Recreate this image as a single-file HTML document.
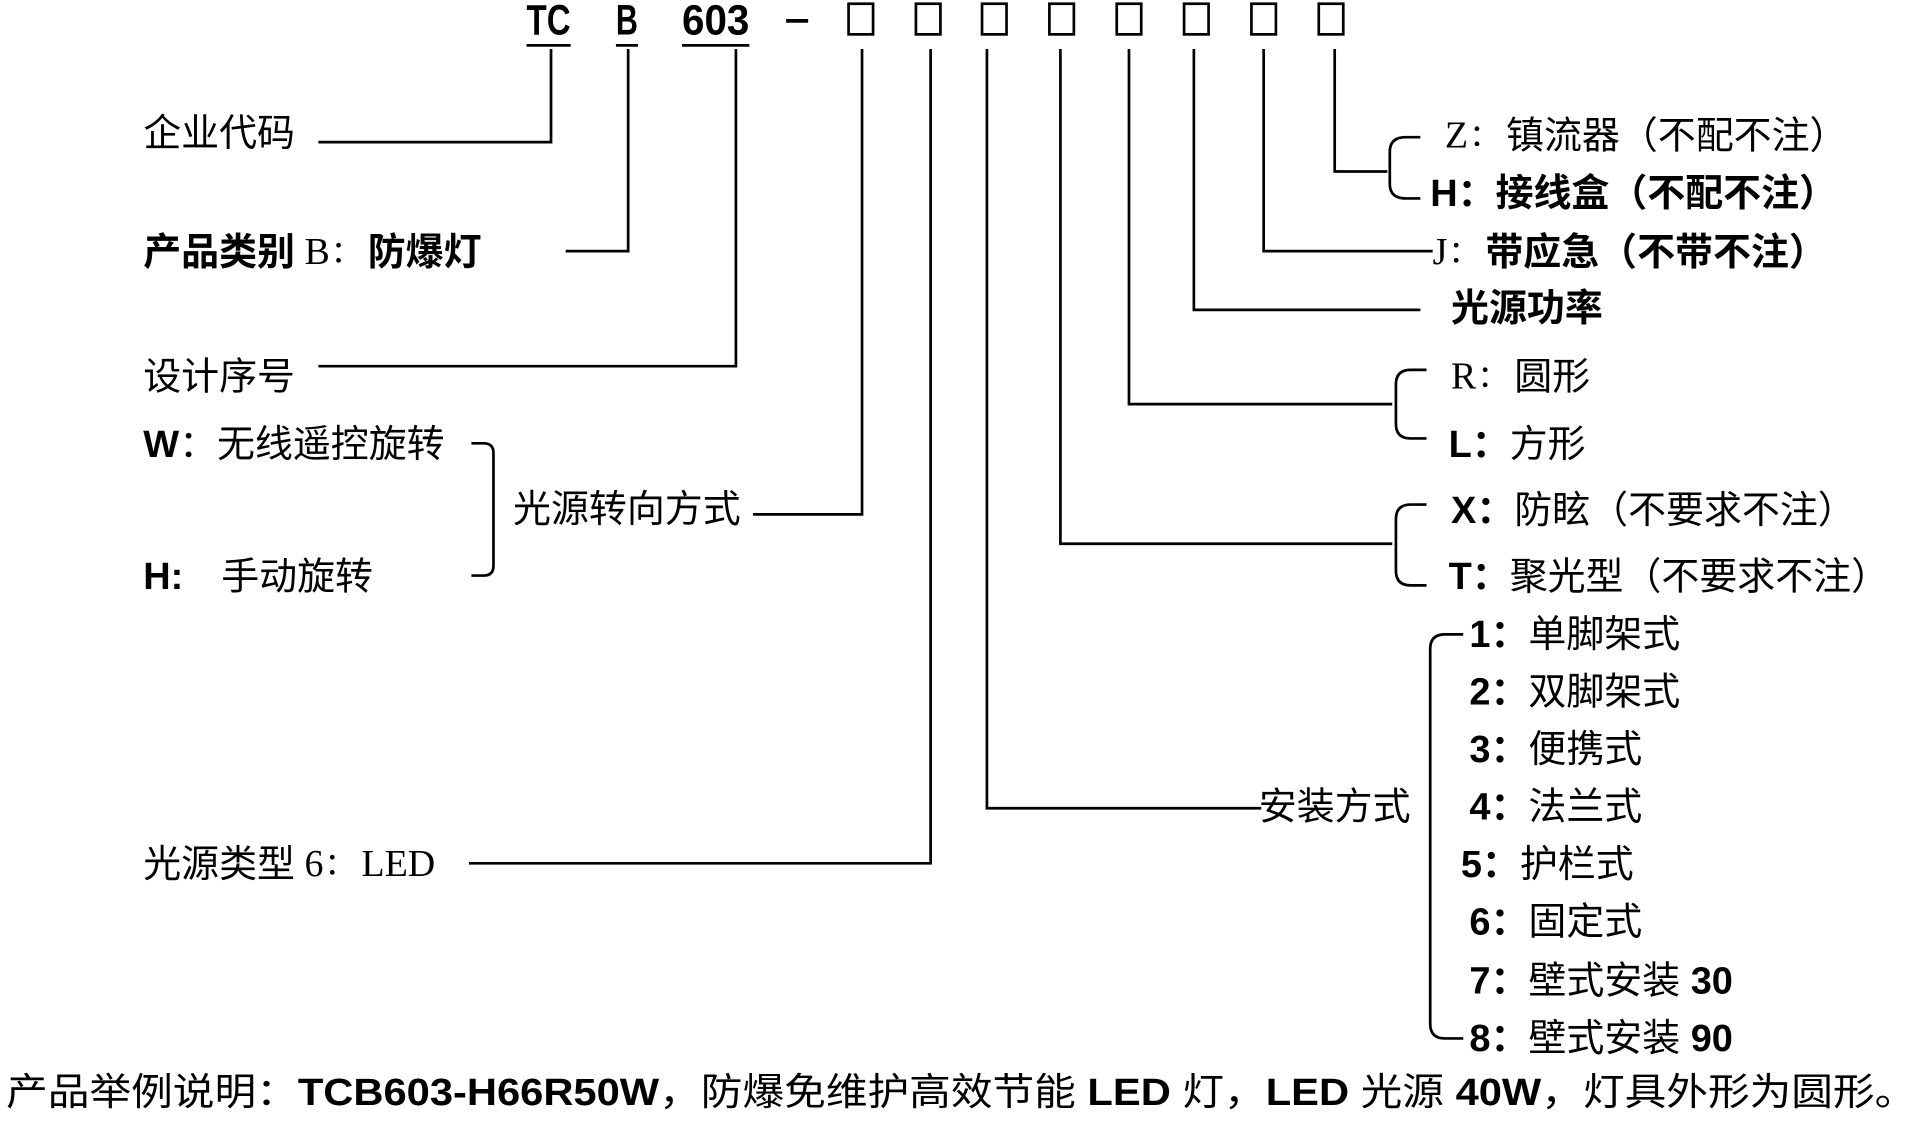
<!DOCTYPE html>
<html><head><meta charset="utf-8"><style>
html,body{margin:0;padding:0;background:#fff;width:1920px;height:1123px;overflow:hidden}
svg text{font-family:"Liberation Sans","Noto Sans CJK SC",sans-serif;font-size:31px;fill:#000;dominant-baseline:middle}
.b{font-weight:bold}
.s{font-family:"Liberation Serif","Noto Serif CJK SC",serif}
svg text.h{font-size:35px;font-weight:bold;dominant-baseline:alphabetic}
</style></head><body>
<svg width="1920" height="1123" viewBox="0 0 1568 917" xmlns="http://www.w3.org/2000/svg">
<g fill="none" stroke="#000" stroke-width="2.2">
<path d="M430 37H466M503 37H521M557 37H612"/>
<path d="M642 17H660" stroke-width="3"/>
<rect x="693" y="3" width="20" height="25"/><rect x="748" y="3" width="20" height="25"/>
<rect x="802" y="3" width="20" height="25"/><rect x="857" y="3" width="20" height="25"/>
<rect x="912" y="3" width="20" height="25"/><rect x="967" y="3" width="20" height="25"/>
<rect x="1022" y="3" width="20" height="25"/><rect x="1077" y="3" width="20" height="25"/>
<path d="M450 40V116H260"/>
<path d="M513 40V205H462"/>
<path d="M601 40V299H260"/>
<path d="M704 40V420H615"/>
<path d="M760 40V705H383"/>
<path d="M806 40V660H1030"/>
<path d="M866 40V444H1137"/>
<path d="M922 40V330H1137"/>
<path d="M975 40V253H1160"/>
<path d="M1032 40V205H1170"/>
<path d="M1090 40V140H1133"/>
<path d="M1160 112H1148Q1135 112 1135 124V150Q1135 162 1148 162H1160"/>
<path d="M1165 302H1152Q1140 302 1140 314V346Q1140 358 1152 358H1165"/>
<path d="M1165 412H1152Q1140 412 1140 424V466Q1140 478 1152 478H1165"/>
<path d="M1195 518H1180Q1168 518 1168 530V836Q1168 848 1180 848H1195"/>
<path d="M385 362H395Q403 362 403 370V462Q403 470 395 470H385"/>
</g>
<text x="430" y="28" class="h" textLength="36" lengthAdjust="spacingAndGlyphs">TC</text>
<text x="503" y="28" class="h" textLength="18" lengthAdjust="spacingAndGlyphs">B</text>
<text x="557" y="28" class="h" textLength="55" lengthAdjust="spacingAndGlyphs">603</text>
<text x="117" y="111">企业代码</text>
<text x="117" y="208"><tspan class="b">产品类别</tspan><tspan class="s">  B：</tspan><tspan class="b">防爆灯</tspan></text>
<text x="117" y="310">设计序号</text>
<text x="117" y="365"><tspan class="b">W</tspan>：无线遥控旋转</text>
<text x="117" y="473"><tspan class="b">H:</tspan>　手动旋转</text>
<text x="419" y="418">光源转向方式</text>
<text x="117" y="708">光源类型<tspan class="s"> 6：LED</tspan></text>
<text x="1028" y="661">安装方式</text>
<text x="1180" y="113"><tspan class="s">Z：</tspan>镇流器（不配不注）</text>
<text x="1168" y="160" class="b">H：接线盒（不配不注）</text>
<text x="1170" y="208"><tspan class="s">J：</tspan><tspan class="b">带应急（不带不注）</tspan></text>
<text x="1185" y="254" class="b">光源功率</text>
<text x="1185" y="310"><tspan class="s">R：</tspan>圆形</text>
<text x="1183" y="365"><tspan class="b">L：</tspan>方形</text>
<text x="1185" y="419"><tspan class="b">X：</tspan>防眩（不要求不注）</text>
<text x="1183" y="473"><tspan class="b">T：</tspan>聚光型（不要求不注）</text>
<text x="1200" y="520"><tspan class="b">1：</tspan>单脚架式</text>
<text x="1200" y="567"><tspan class="b">2：</tspan>双脚架式</text>
<text x="1200" y="614"><tspan class="b">3：</tspan>便携式</text>
<text x="1200" y="661"><tspan class="b">4：</tspan>法兰式</text>
<text x="1193" y="708"><tspan class="b">5：</tspan>护栏式</text>
<text x="1200" y="755"><tspan class="b">6：</tspan>固定式</text>
<text x="1200" y="803"><tspan class="b">7：</tspan>壁式安装<tspan class="b"> 30</tspan></text>
<text x="1200" y="850"><tspan class="b">8：</tspan>壁式安装<tspan class="b"> 90</tspan></text>
<text x="5" y="894" textLength="1560" lengthAdjust="spacingAndGlyphs">产品举例说明：<tspan class="b">TCB603-H66R50W</tspan>，防爆免维护高效节能<tspan class="b"> LED </tspan>灯，<tspan class="b">LED </tspan>光源<tspan class="b"> 40W</tspan>，灯具外形为圆形。</text>
</svg>
</body></html>
